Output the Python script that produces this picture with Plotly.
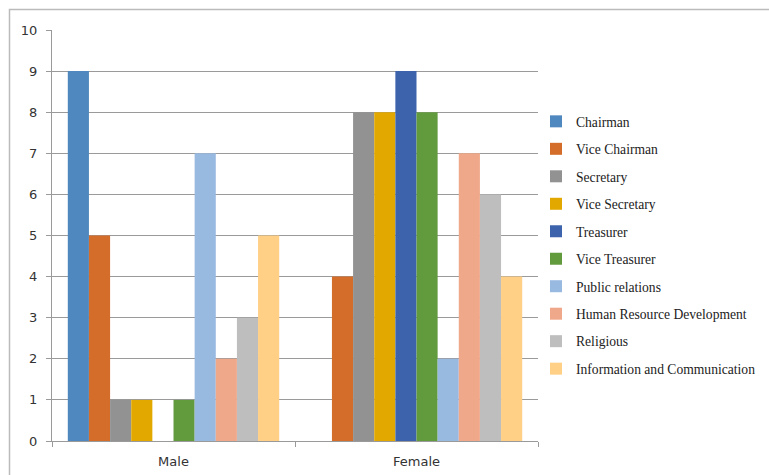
import plotly.graph_objects as go

# Categories and positions
genders = ["Male", "Female"]
positions = [
    "Chairman",
    "Vice Chairman",
    "Secretary",
    "Vice Secretary",
    "Treasurer",
    "Vice Treasurer",
    "Public relations",
    "Human Resource Development",
    "Religious",
    "Information and Communication",
]

# Counts per position: [Male, Female]
chairman = [9, 0]
vice_chairman = [5, 4]
secretary = [1, 8]
vice_secretary = [1, 8]
treasurer = [0, 9]
vice_treasurer = [1, 8]
public_relations = [7, 2]
human_resource = [2, 7]
religious = [3, 6]
info_comm = [5, 4]

series = [chairman, vice_chairman, secretary, vice_secretary, treasurer,
          vice_treasurer, public_relations, human_resource, religious, info_comm]

colors = ["#4F88BE", "#D46D2A", "#929292", "#E2A800", "#3C63AC",
          "#629A3E", "#98B9E0", "#F0A88A", "#BEBEBE", "#FFD085"]

fig = go.Figure()
for i, (name, vals, col) in enumerate(zip(positions, series, colors)):
    fig.add_trace(go.Bar(
        x=genders, y=vals, name=name,
        marker=dict(color=col, line=dict(width=0)),
        legendgroup=name,
    ))

# plot area in pixels: left 52, right 538, top 30, bottom 441
L, R, T, B = 52, 538, 30, 441
W, H = 769, 475
pw, ph = R - L, B - T

fig.update_layout(
    width=W, height=H,
    margin=dict(l=L, r=W - R, t=T, b=H - B, autoexpand=False),
    paper_bgcolor="white", plot_bgcolor="white",
    barmode="group", bargap=0.13, bargroupgap=0,
    showlegend=True,
    legend=dict(
        x=(536 - L) / pw, y=(B - 106) / ph, xanchor="left", yanchor="top",
        font=dict(family="Liberation Serif", size=13.6, color="#222222"),
        tracegroupgap=6.8, itemwidth=30,
        bgcolor="rgba(0,0,0,0)",
    ),
    font=dict(family="DejaVu Sans", size=13, color="#333333"),
    xaxis=dict(
        showline=True, linecolor="#9A9A9A", linewidth=1,
        ticks="outside", tickson="boundaries", ticklen=5, tickcolor="#9A9A9A",
        showgrid=False, tickfont=dict(size=13, color="#333333"),
        ticklabelstandoff=8, automargin=False,
    ),
    yaxis=dict(
        range=[0, 10], dtick=1, tick0=0,
        showline=True, linecolor="#9A9A9A", linewidth=1,
        ticks="outside", ticklen=5, tickcolor="#9A9A9A",
        showgrid=True, gridcolor="#9A9A9A", gridwidth=1,
        zeroline=False, tickfont=dict(size=13, color="#333333"),
        ticklabelstandoff=6, automargin=False,
    ),
    shapes=[
        # outer chart frame
        dict(type="rect", xref="paper", yref="paper",
             x0=(9.5 - L) / pw, x1=(W + 5 - L) / pw,
             y0=(B - (H + 5)) / ph, y1=(B - 9.5) / ph,
             line=dict(color="#BBBBBB", width=1.5), fillcolor="rgba(0,0,0,0)",
             layer="below"),
    ],
)

fig.write_html("out.html")
